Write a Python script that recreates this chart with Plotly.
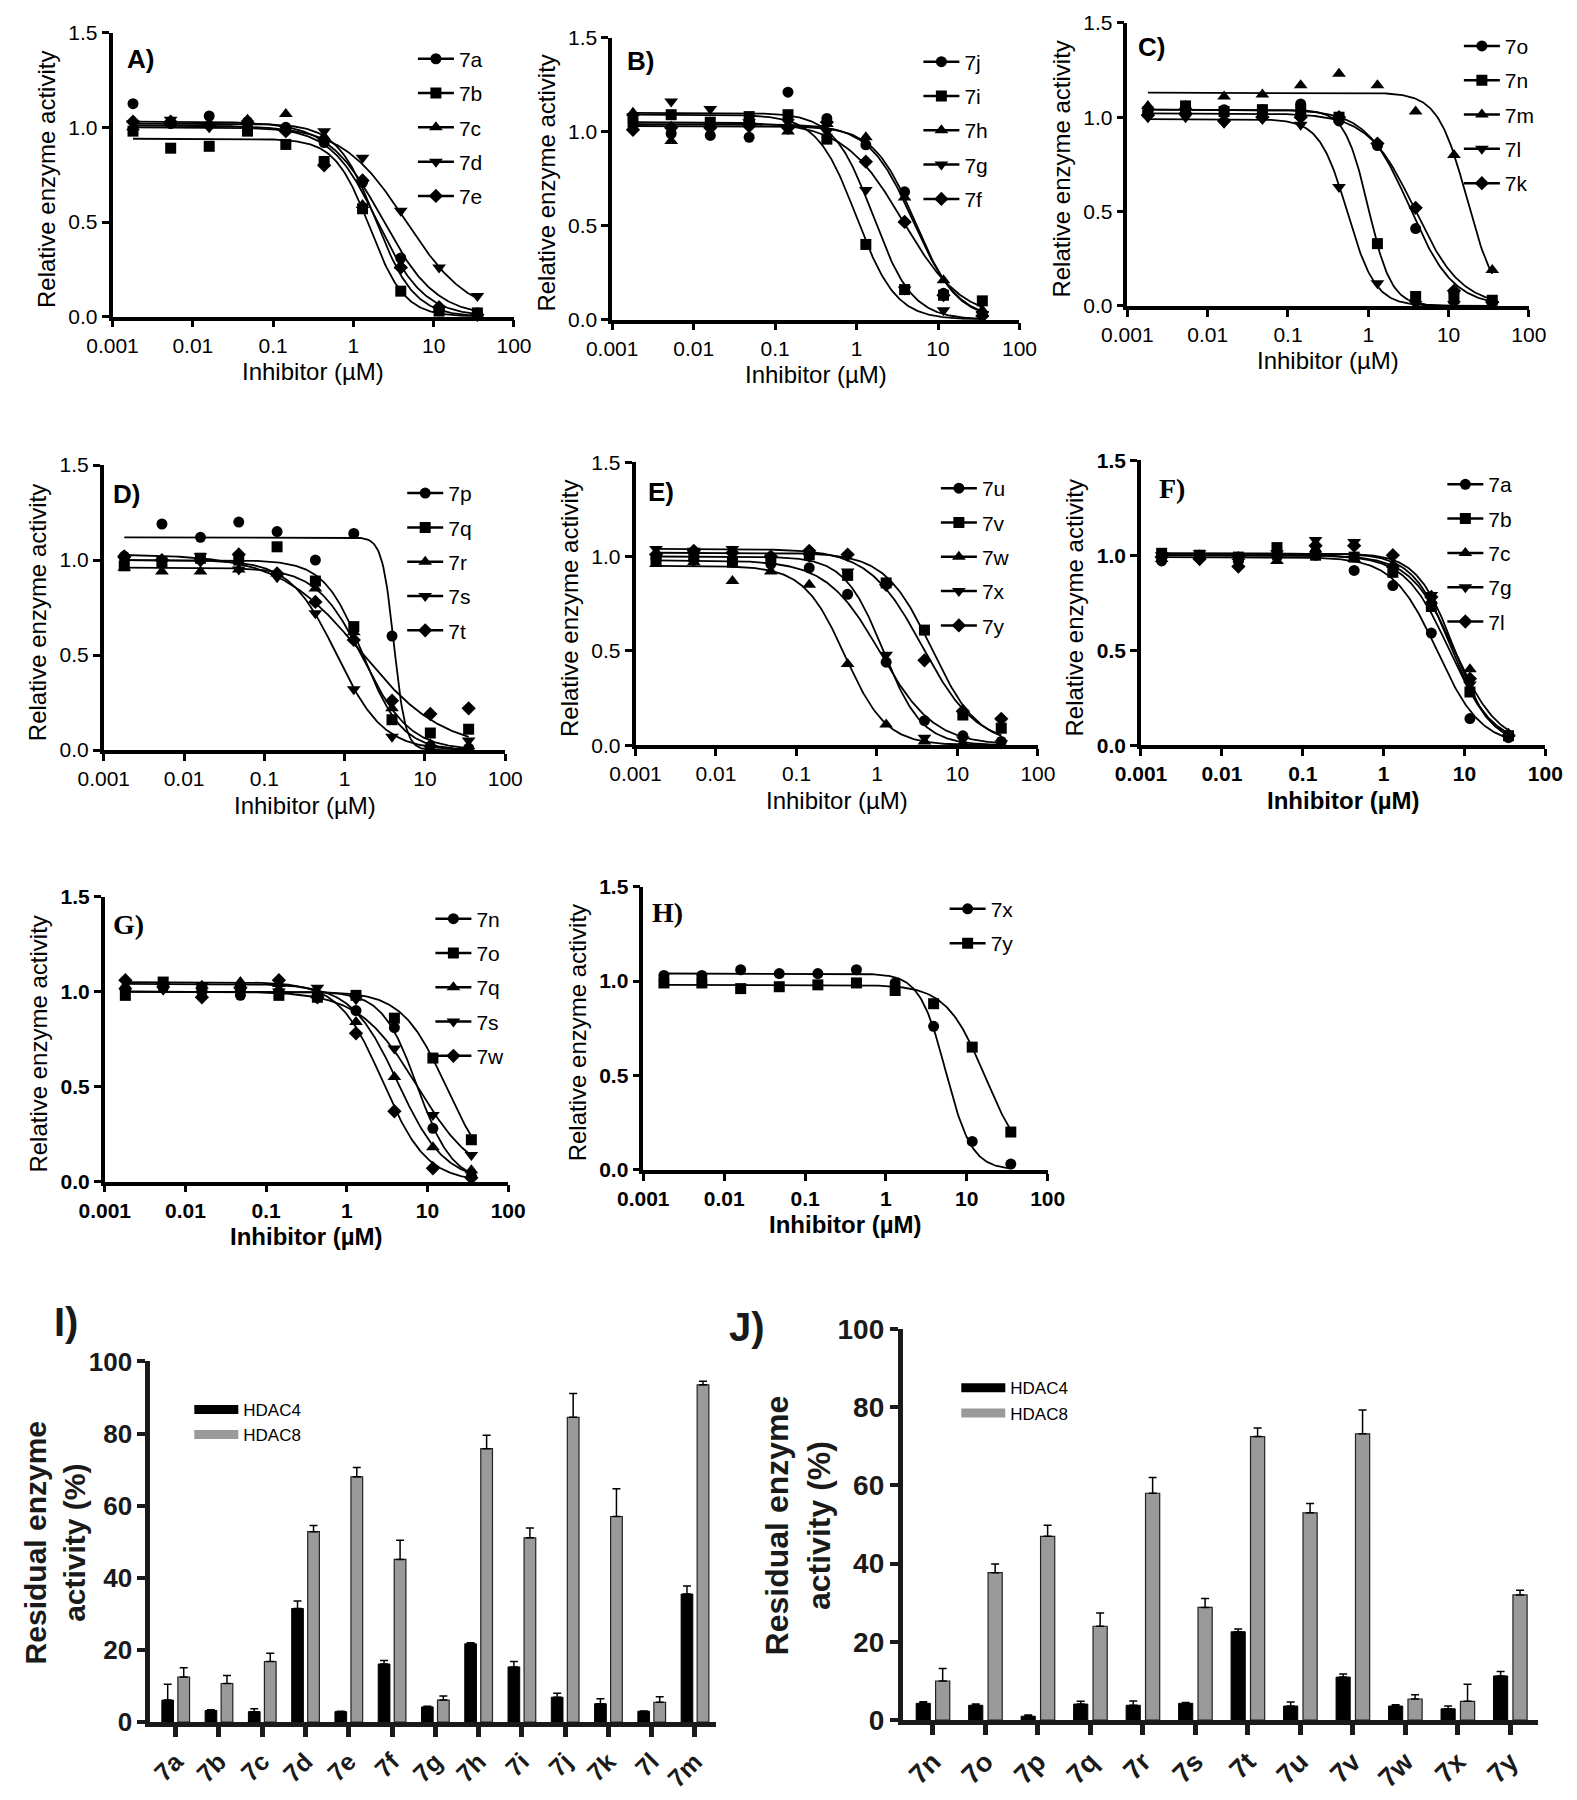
import numpy as np
import plotly.graph_objects as go

W, H = 1577, 1800
SANS = "Liberation Sans, Arial, sans-serif"
SERIF = "Liberation Serif, Times New Roman, serif"

# ---------------- DATA ----------------
conc = [0.0018, 0.0053, 0.016, 0.048, 0.144, 0.432, 1.30, 3.89, 11.67, 35.0]
x_ticks = [0.001, 0.01, 0.1, 1, 10, 100]
x_ticktext = ["0.001", "0.01", "0.1", "1", "10", "100"]
y_ticks = [0, 0.5, 1.0, 1.5]
y_ticktext = ["0.0", "0.5", "1.0", "1.5"]

# Panel A
A_names = ["7a", "7b", "7c", "7d", "7e"]
A_7a = [1.125, 1.02, 1.06, 1.03, 1.00, 0.92, 0.71, 0.31, 0.04, 0.02]
A_7b = [0.98, 0.89, 0.90, 0.98, 0.91, 0.82, 0.57, 0.135, 0.03, 0.02]
A_7c = [1.00, 1.03, 1.02, 1.04, 1.07, 0.95, 0.59, 0.27, 0.04, 0.01]
A_7d = [1.02, 1.04, 1.00, 1.02, 0.99, 0.98, 0.84, 0.56, 0.26, 0.11]
A_7e = [1.03, 1.03, 1.01, 1.02, 0.98, 0.80, 0.72, 0.26, 0.05, 0.01]
A_top = [1.03, 0.94, 1.02, 1.01, 1.00]
A_ic50 = [2.3, 1.6, 1.9, 4.5, 2.0]
A_hill = [1.3, 2.0, 1.8, 1.1, 1.5]

# Panel B
B_names = ["7j", "7i", "7h", "7g", "7f"]
B_7j = [1.03, 0.99, 0.98, 0.97, 1.21, 1.07, 0.93, 0.68, 0.14, 0.03]
B_7i = [1.07, 1.09, 1.05, 1.08, 1.09, 0.96, 0.40, 0.16, 0.13, 0.10]
B_7h = [1.10, 0.95, 1.05, 1.06, 1.00, 1.04, 0.97, 0.65, 0.21, 0.05]
B_7g = [1.08, 1.16, 1.12, 1.05, 1.05, 1.00, 0.69, 0.16, 0.05, 0.03]
B_7f = [1.01, 1.02, 1.02, 1.03, 1.02, 1.05, 0.84, 0.52, 0.13, 0.02]
B_top = [1.04, 1.09, 1.03, 1.10, 1.05]
B_ic50 = [5.0, 1.0, 5.3, 1.6, 3.7]
B_hill = [1.6, 1.8, 1.7, 1.8, 1.2]

# Panel C
C_names = ["7o", "7n", "7m", "7l", "7k"]
C_7o = [1.03, 1.04, 1.04, 1.04, 1.07, 0.98, 0.85, 0.41, 0.07, 0.02]
C_7n = [1.03, 1.06, 1.03, 1.04, 1.04, 1.00, 0.33, 0.05, 0.04, 0.03]
C_7m = [1.06, 1.06, 1.11, 1.12, 1.17, 1.23, 1.17, 1.03, 0.80, 0.19]
C_7l = [1.00, 1.00, 0.97, 0.99, 0.96, 0.63, 0.12, 0.01, 0.01, 0.01]
C_7k = [1.01, 1.02, 0.98, 1.00, 1.00, 1.00, 0.86, 0.52, 0.08, 0.02]
C_top = [1.04, 1.04, 1.13, 0.99, 1.02]
C_ic50 = [3.3, 1.0, 17.0, 0.55, 3.8]
C_hill = [1.6, 3.0, 2.4, 2.5, 1.5]

# Panel D
D_names = ["7p", "7q", "7r", "7s", "7t"]
D_7p = [1.02, 1.19, 1.12, 1.20, 1.15, 1.00, 1.14, 0.60, 0.02, 0.01]
D_7q = [0.97, 0.99, 1.01, 1.00, 1.07, 0.89, 0.65, 0.16, 0.09, 0.11]
D_7r = [0.96, 0.94, 0.94, 0.95, 0.93, 0.85, 0.62, 0.22, 0.03, 0.02]
D_7s = [1.00, 0.99, 1.02, 0.95, 0.91, 0.72, 0.32, 0.07, 0.01, 0.05]
D_7t = [1.02, 1.00, 1.00, 1.03, 0.93, 0.78, 0.58, 0.26, 0.19, 0.22]
D_top = [1.12, 1.00, 0.96, 1.00, 1.03]
D_ic50 = [4.1, 1.7, 1.7, 0.8, 1.6]
D_hill = [6.0, 1.8, 1.5, 1.5, 0.85]

# Panel E
E_names = ["7u", "7v", "7w", "7x", "7y"]
E_7u = [0.99, 0.98, 0.97, 0.96, 0.94, 0.80, 0.44, 0.13, 0.05, 0.02]
E_7v = [0.98, 1.00, 0.97, 0.99, 1.01, 0.90, 0.86, 0.61, 0.16, 0.09]
E_7w = [0.96, 0.97, 0.87, 0.92, 0.85, 0.43, 0.11, 0.02, 0.01, 0.00]
E_7x = [1.04, 1.03, 1.04, 0.99, 1.00, 0.92, 0.48, 0.04, 0.03, 0.01]
E_7y = [1.01, 1.03, 1.02, 1.00, 1.03, 1.01, 0.85, 0.45, 0.18, 0.14]
E_top = [0.98, 1.02, 0.95, 1.00, 1.04]
E_ic50 = [1.1, 4.8, 0.4, 1.2, 3.7]
E_hill = [1.3, 1.5, 1.7, 1.8, 1.3]

# Panel F
F_names = ["7a", "7b", "7c", "7g", "7l"]
F_7a = [0.97, 0.99, 0.97, 0.99, 1.00, 0.92, 0.84, 0.59, 0.14, 0.04]
F_7b = [1.01, 1.00, 0.99, 1.04, 1.00, 0.99, 0.91, 0.73, 0.28, 0.05]
F_7c = [0.98, 1.00, 0.99, 0.97, 1.03, 0.98, 0.95, 0.76, 0.40, 0.06]
F_7g = [1.00, 1.01, 0.98, 1.01, 1.08, 1.07, 0.93, 0.79, 0.32, 0.04]
F_7l = [0.99, 0.98, 0.94, 1.00, 1.05, 1.05, 1.00, 0.78, 0.35, 0.05]
F_top = [0.99, 1.00, 1.00, 1.01, 1.01]
F_ic50 = [4.6, 6.5, 7.5, 7.0, 7.5]
F_hill = [1.6, 1.6, 1.6, 1.8, 1.9]

# Panel G
G_names = ["7n", "7o", "7q", "7s", "7w"]
G_7n = [1.01, 1.02, 1.00, 0.98, 1.00, 0.98, 0.90, 0.81, 0.28, 0.03]
G_7o = [0.98, 1.05, 1.02, 1.02, 0.98, 0.97, 0.98, 0.86, 0.65, 0.22]
G_7q = [1.03, 1.04, 1.03, 1.05, 1.04, 0.99, 0.84, 0.55, 0.18, 0.06]
G_7s = [1.00, 1.01, 1.03, 1.01, 1.00, 1.02, 0.96, 0.70, 0.35, 0.14]
G_7w = [1.06, 1.04, 0.97, 1.02, 1.06, 0.97, 0.78, 0.37, 0.07, 0.02]
G_top = [1.00, 1.00, 1.04, 1.00, 1.05]
G_ic50 = [7.5, 17.0, 4.3, 7.5, 2.8]
G_hill = [2.0, 1.6, 1.5, 1.2, 1.6]

# Panel H
H_names = ["7x", "7y"]
H_7x = [1.03, 1.03, 1.06, 1.04, 1.04, 1.06, 0.99, 0.76, 0.15, 0.03]
H_7y = [0.99, 0.99, 0.96, 0.97, 0.98, 0.99, 0.95, 0.88, 0.65, 0.20]
H_top = [1.04, 0.98]
H_ic50 = [5.5, 17.0]
H_hill = [2.7, 1.8]

# Panel I (bars)
I_cats = ["7a", "7b", "7c", "7d", "7e", "7f", "7g", "7h", "7i", "7j", "7k", "7l", "7m"]
I_hdac4 = [6.1, 3.2, 2.9, 31.5, 2.9, 16.1, 4.2, 21.7, 15.3, 6.9, 5.1, 3.0, 35.5]
I_hdac4_err = [4.4, 0.2, 0.8, 2.1, 0.1, 1.0, 0.2, 0.3, 1.5, 1.1, 1.4, 0.1, 2.2]
I_hdac8 = [12.5, 10.7, 16.8, 52.8, 68.0, 45.1, 6.1, 75.8, 51.1, 84.5, 57.0, 5.5, 93.5]
I_hdac8_err = [2.6, 2.2, 2.3, 1.7, 2.6, 5.3, 1.1, 3.7, 2.7, 6.6, 7.7, 1.5, 1.0]

# Panel J (bars)
J_cats = ["7n", "7o", "7p", "7q", "7r", "7s", "7t", "7u", "7v", "7w", "7x", "7y"]
J_hdac4 = [4.3, 3.8, 1.0, 4.1, 3.8, 4.3, 22.6, 3.6, 11.0, 3.6, 2.9, 11.3]
J_hdac4_err = [0.4, 0.3, 0.3, 0.7, 1.1, 0.2, 0.7, 1.0, 0.8, 0.3, 0.7, 1.1]
J_hdac8 = [10.0, 37.7, 47.0, 24.0, 58.0, 28.8, 72.5, 53.0, 73.2, 5.4, 4.8, 32.0]
J_hdac8_err = [3.2, 2.2, 2.8, 3.4, 4.0, 2.3, 2.2, 2.4, 6.1, 1.1, 4.4, 1.2]

# ---------------- LAYOUT / STYLE ----------------
def px(x):
    return x / W

def py(y):
    return 1 - y / H

symbols = ["circle", "square", "triangle-up", "triangle-down", "diamond"]
msize = [11, 11, 12, 12, 11]

# (label, names, series, top, ic50, hill, x0, x1, ytop, ybot, legend marker x, legend row1 y, label cx, label cy, serif)
line_panels = [
    ("A)", A_names, [A_7a, A_7b, A_7c, A_7d, A_7e], A_top, A_ic50, A_hill, 89, 502, 18, 307, 420, 40, 118, 45, False),
    ("B)", B_names, [B_7j, B_7i, B_7h, B_7g, B_7f], B_top, B_ic50, B_hill, 603, 1022, 23, 310, 940, 43, 632, 47, False),
    ("C)", C_names, [C_7o, C_7n, C_7m, C_7l, C_7k], C_top, C_ic50, C_hill, 1133, 1546, 8, 296, 1496, 27, 1158, 33, False),
    ("D)", D_names, [D_7p, D_7q, D_7r, D_7s, D_7t], D_top, D_ic50, D_hill, 80, 493, 458, 748, 409, 482, 103, 487, False),
    ("E)", E_names, [E_7u, E_7v, E_7w, E_7x, E_7y], E_top, E_ic50, E_hill, 627, 1041, 455, 743, 958, 477, 653, 485, False),
    ("F)", F_names, [F_7a, F_7b, F_7c, F_7g, F_7l], F_top, F_ic50, F_hill, 1147, 1563, 453, 743, 1479, 473, 1179, 482, True),
    ("G)", G_names, [G_7n, G_7o, G_7q, G_7s, G_7w], G_top, G_ic50, G_hill, 81, 496, 897, 1187, 438, 915, 105, 925, True),
    ("H)", H_names, [H_7x, H_7y], H_top, H_ic50, H_hill, 635, 1051, 887, 1175, 967, 905, 660, 913, True),
]

fig = go.Figure()
layout = dict(
    width=W, height=H, autosize=False,
    margin=dict(l=0, r=0, t=0, b=0),
    paper_bgcolor="white", plot_bgcolor="white",
    font=dict(family=SANS, color="black"),
    showlegend=True,
    annotations=[],
)

curve_x = np.logspace(np.log10(conc[0]), np.log10(conc[-1]), 300)

for i, (lab, names, series, tops, ic50s, hills, x0, x1, yt, yb, lmx, lmy, lcx, lcy, serif) in enumerate(line_panels, start=1):
    xa = "x" if i == 1 else f"x{i}"
    ya = "y" if i == 1 else f"y{i}"
    leg = "legend" if i == 1 else f"legend{i}"
    for k, name in enumerate(names):
        # fitted 4-parameter logistic curve with parameters
        cy = tops[k] / (1 + (curve_x / ic50s[k]) ** hills[k])
        fig.add_trace(go.Scatter(x=curve_x, y=cy, mode="lines", line=dict(color="black", width=1.8),
                                 xaxis=xa, yaxis=ya, showlegend=False, hoverinfo="skip"))
        fig.add_trace(go.Scatter(x=conc, y=series[k], mode="markers",
                                 marker=dict(symbol=symbols[k], size=msize[k], color="black"),
                                 xaxis=xa, yaxis=ya, showlegend=False, cliponaxis=False, name=name))
        fig.add_trace(go.Scatter(x=[None], y=[None], mode="lines+markers", name=name,
                                 line=dict(color="black", width=2.5),
                                 marker=dict(symbol=symbols[k], size=msize[k], color="black"),
                                 xaxis=xa, yaxis=ya, legend=leg, legendgroup=f"{lab}{name}"))
    tickweight = "bold" if serif else "normal"
    layout["xaxis" if i == 1 else f"xaxis{i}"] = dict(
        type="log", domain=[px(x0), px(x1)], range=[-3, 2], anchor=ya,
        tickmode="array", tickvals=x_ticks, ticktext=x_ticktext,
        showline=True, linecolor="black", linewidth=3.5, ticks="outside", ticklen=7, tickwidth=3,
        tickcolor="black", showgrid=False, zeroline=False,
        tickfont=dict(family=SANS, size=21, color="black", weight=tickweight))
    layout["yaxis" if i == 1 else f"yaxis{i}"] = dict(
        domain=[py(yb), py(yt)], range=[0, 1.5], anchor=xa,
        tickmode="array", tickvals=y_ticks, ticktext=y_ticktext,
        showline=True, linecolor="black", linewidth=3.5, ticks="outside", ticklen=7, tickwidth=3,
        tickcolor="black", showgrid=False, zeroline=False,
        tickfont=dict(family=SANS, size=21, color="black", weight=tickweight))
    layout[leg] = dict(x=px(lmx - 22), y=py(lmy - 16), xanchor="left", yanchor="top",
                       bgcolor="rgba(0,0,0,0)", borderwidth=0, tracegroupgap=4, itemwidth=36,
                       font=dict(family=SANS, size=21, color="black"))
    layout["annotations"].append(dict(
        text=lab, x=px(lcx), y=py(lcy), xref="paper", yref="paper", showarrow=False,
        xanchor="center", yanchor="middle",
        font=dict(family=SERIF if serif else SANS, size=28 if serif else 26, color="black", weight="bold")))
    layout["annotations"].append(dict(
        text="Relative enzyme activity", textangle=-90, x=px(x0 - 68), y=py((yt + yb) / 2 + 5),
        xref="paper", yref="paper", showarrow=False, xanchor="center", yanchor="middle",
        font=dict(family=SANS, size=24, color="black")))
    layout["annotations"].append(dict(
        text="Inhibitor (µM)", x=px((x0 + x1) / 2), y=py(yb + 56),
        xref="paper", yref="paper", showarrow=False, xanchor="center", yanchor="middle",
        font=dict(family=SANS, size=24, color="black", weight=tickweight)))

# bar panels
# (label, cats, h4, h4err, h8, h8err, x0, x1, ytop, ybot, range, legend swatch cx, legend row1 y, label cx, label cy, title cx, title cy, title fs, tick fs)
bar_panels = [
    ("I)", I_cats, I_hdac4, I_hdac4_err, I_hdac8, I_hdac8_err, 128, 710, 1370, 1737, [-0.584, 12.49],
     190, 1413, 41, 1330, 30, 1555, 30, 26),
    ("J)", J_cats, J_hdac4, J_hdac4_err, J_hdac8, J_hdac8_err, 902, 1555, 1337, 1735, [-0.574, 11.52],
     979, 1391, 742, 1335, 794, 1537, 32, 28),
]
bw = 0.27
half = 0.185
for j, (lab, cats, h4, h4e, h8, h8e, x0, x1, yt, yb, rng, lsx, lsy, lcx, lcy, tcx, tcy, tfs, tkfs) in enumerate(bar_panels, start=9):
    xa, ya, leg = f"x{j}", f"y{j}", f"legend{j}"
    fig.add_trace(go.Bar(x=cats, y=h4, width=bw, offset=-half - bw / 2, name="HDAC4",
                         marker=dict(color="black", line=dict(color="black", width=1)),
                         error_y=dict(type="data", array=h4e, arrayminus=[0] * len(h4e), symmetric=False,
                                      color="black", thickness=1.5, width=4),
                         xaxis=xa, yaxis=ya, showlegend=False))
    fig.add_trace(go.Bar(x=cats, y=h8, width=bw, offset=half - bw / 2, name="HDAC8",
                         marker=dict(color="#9a9a9a", line=dict(color="#222222", width=1.2)),
                         error_y=dict(type="data", array=h8e, arrayminus=[0] * len(h8e), symmetric=False,
                                      color="black", thickness=1.5, width=4),
                         xaxis=xa, yaxis=ya, showlegend=False))
    fig.add_trace(go.Scatter(x=[None], y=[None], mode="lines", name="HDAC4",
                             line=dict(color="black", width=9), xaxis=xa, yaxis=ya, legend=leg))
    fig.add_trace(go.Scatter(x=[None], y=[None], mode="lines", name="HDAC8",
                             line=dict(color="#9a9a9a", width=9), xaxis=xa, yaxis=ya, legend=leg))
    layout[f"xaxis{j}"] = dict(
        type="category", domain=[px(x0), px(x1)], range=rng, anchor=ya,
        showline=True, linecolor="#1a1a1a", linewidth=5, ticks="outside", ticklen=10, tickwidth=5,
        tickcolor="#1a1a1a", showgrid=False, zeroline=False, tickangle=-45,
        tickfont=dict(family=SANS, size=tkfs - 1, color="#1a1a1a", weight="bold"))
    layout[f"yaxis{j}"] = dict(
        domain=[py(yb), py(yt)], range=[0, 100], anchor=xa, tickmode="linear", tick0=0, dtick=20,
        showline=True, linecolor="#1a1a1a", linewidth=5, ticks="outside", ticklen=8, tickwidth=4,
        tickcolor="#1a1a1a", showgrid=False, zeroline=False,
        tickfont=dict(family=SANS, size=tkfs, color="#1a1a1a", weight="bold"))
    layout[leg] = dict(x=px(lsx - 22), y=py(lsy - 12), xanchor="left", yanchor="top",
                       bgcolor="rgba(0,0,0,0)", borderwidth=0, itemwidth=44,
                       font=dict(family=SANS, size=17, color="black"))
    layout["annotations"].append(dict(
        text=lab, x=px(lcx), y=py(lcy), xref="paper", yref="paper", showarrow=False,
        xanchor="center", yanchor="middle",
        font=dict(family=SANS, size=40, color="#1a1a1a", weight="bold")))
    layout["annotations"].append(dict(
        text="Residual enzyme<br>activity (%)", textangle=-90, x=px(tcx), y=py(tcy),
        xref="paper", yref="paper", showarrow=False, xanchor="center", yanchor="middle",
        font=dict(family=SANS, size=tfs, color="#1a1a1a", weight="bold")))

fig.update_layout(**layout)
fig.write_html("out.html", config={"displayModeBar": False},
               post_script="document.body.style.margin='0px';")
